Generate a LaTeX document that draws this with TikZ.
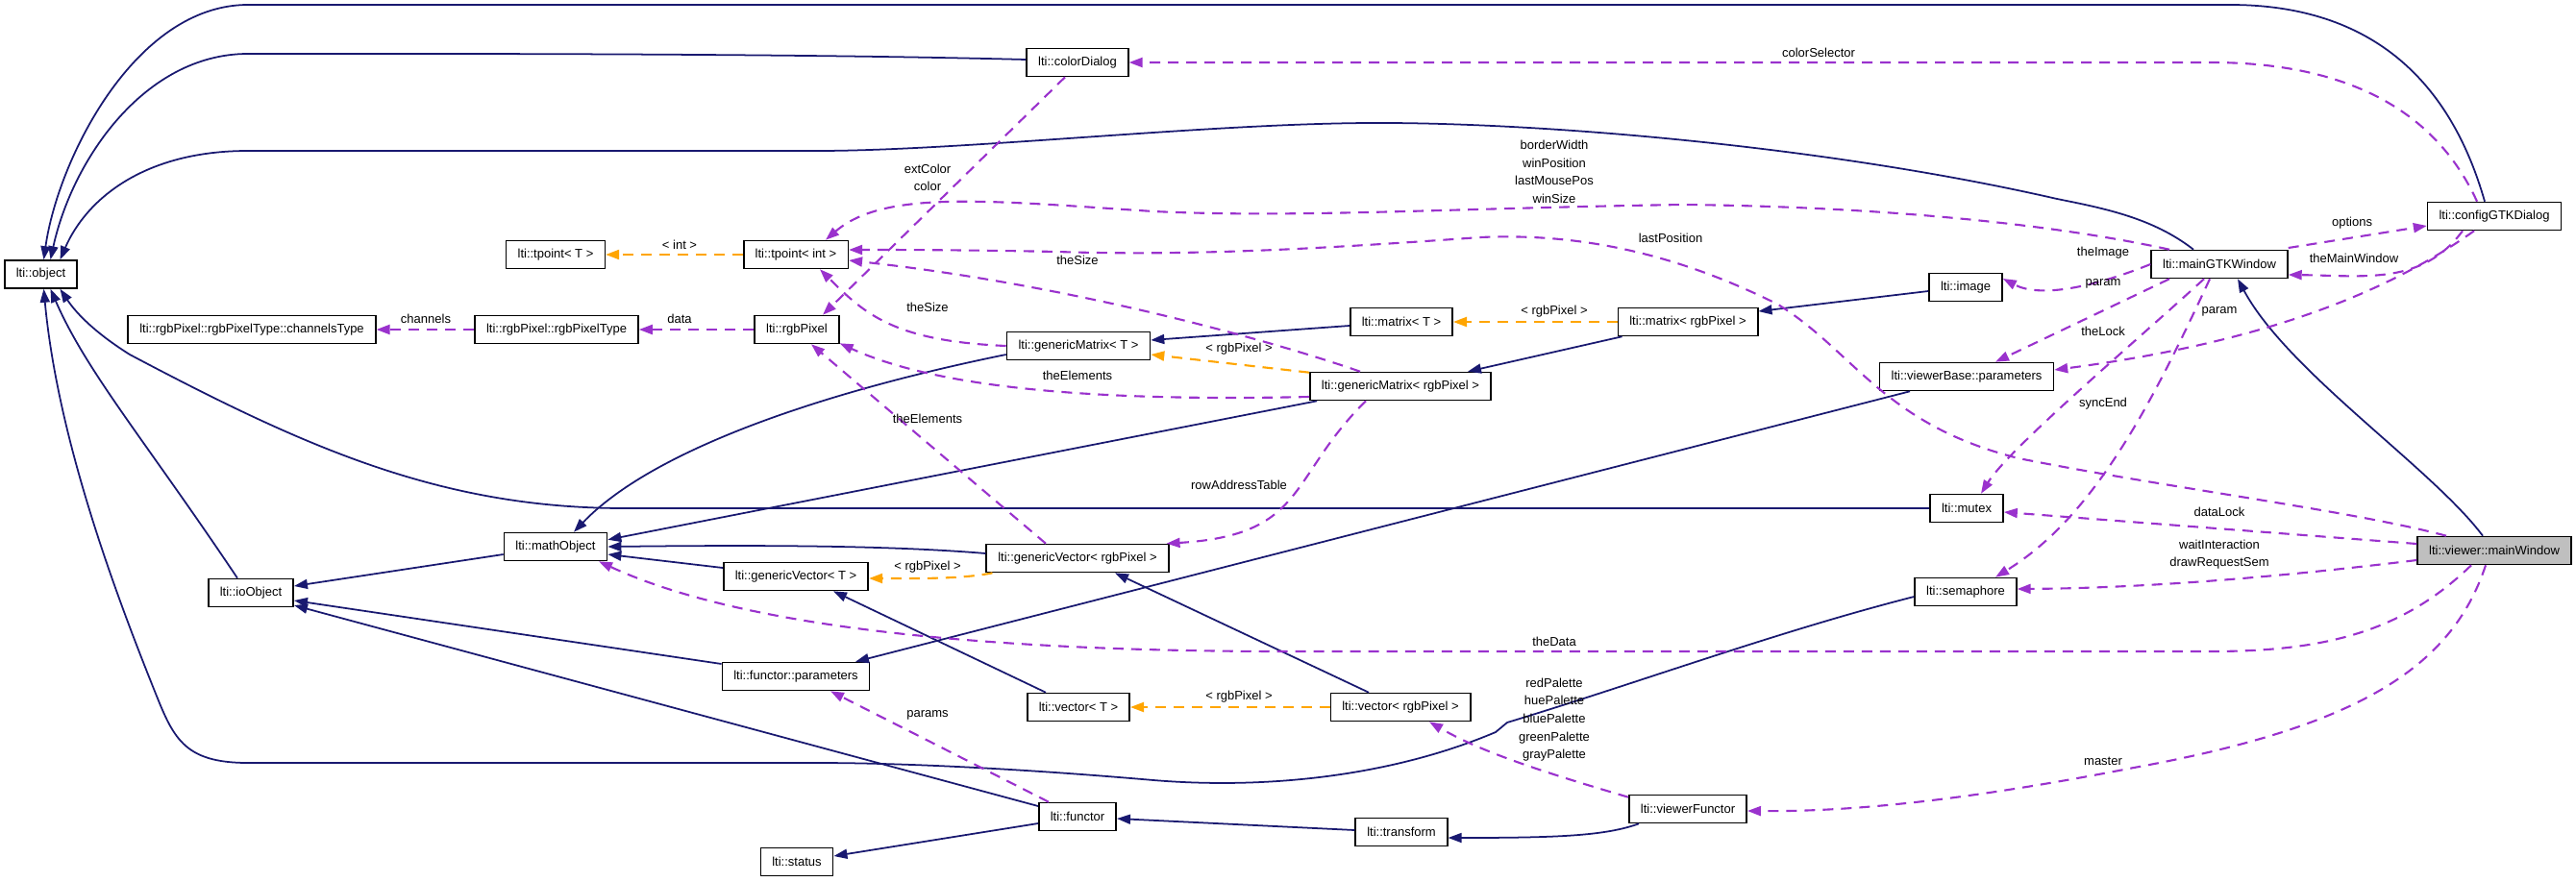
\documentclass[tikz,border=0pt]{standalone}
\usepackage{fontspec}
\setmainfont{Liberation Sans}
\usetikzlibrary{arrows.meta}
\definecolor{edgeNavy}{RGB}{25, 25, 112}
\definecolor{edgeOrchid}{RGB}{154, 50, 205}
\definecolor{edgeOrange}{RGB}{255, 165, 0}
\definecolor{nodeGray}{RGB}{191, 191, 191}
\newcommand{\lblfont}{\fontsize{3.7}{5.3}\selectfont}

\begin{document}
\begin{tikzpicture}[
    clsBox/.style={draw=black, line width=0.45pt, fill=white, inner xsep=0.12cm, inner ysep=0pt, minimum height=0.29cm, font=\lblfont},
    edgeLbl/.style={font=\lblfont, inner sep=0pt, align=center},
    inhEdge/.style={draw=edgeNavy, line width=0.5pt, -{Triangle[length=1.4mm, width=1mm]}},
    tplEdge/.style={draw=edgeOrange, line width=0.6pt, dash pattern=on 1.1mm off 0.8mm, -{Triangle[length=1.4mm, width=1mm]}},
    useEdge/.style={draw=edgeOrchid, line width=0.6pt, dash pattern=on 1.1mm off 0.8mm, -{Triangle[length=1.4mm, width=1mm]}}]
  \useasboundingbox (0,0) rectangle (26.8,9.17);
  % classes
  \node[clsBox] (obj) at (0.425,6.315) {lti::object};
  \node[clsBox] (colorDlg) at (11.21,8.52) {lti::colorDialog};
  \node[clsBox] (tpointT) at (5.78,6.52) {lti::tpoint< T >};
  \node[clsBox] (tpointInt) at (8.28,6.52) {lti::tpoint< int >};
  \node[clsBox] (chanType) at (2.62,5.74) {lti::rgbPixel::rgbPixelType::channelsType};
  \node[clsBox] (pixType) at (5.79,5.74) {lti::rgbPixel::rgbPixelType};
  \node[clsBox] (rgbPix) at (8.29,5.74) {lti::rgbPixel};
  \node[clsBox] (gmatT) at (11.22,5.57) {lti::genericMatrix< T >};
  \node[clsBox] (matT) at (14.58,5.82) {lti::matrix< T >};
  \node[clsBox] (matPix) at (17.56,5.82) {lti::matrix< rgbPixel >};
  \node[clsBox] (gmatPix) at (14.57,5.15) {lti::genericMatrix< rgbPixel >};
  \node[clsBox] (image) at (20.45,6.18) {lti::image};
  \node[clsBox] (gtkWin) at (23.09,6.42) {lti::mainGTKWindow};
  \node[clsBox] (cfgDlg) at (25.95,6.92) {lti::configGTKDialog};
  \node[clsBox] (vbParams) at (20.46,5.25) {lti::viewerBase::parameters};
  \node[clsBox] (mutex) at (20.46,3.88) {lti::mutex};
  \node[clsBox] (sema) at (20.45,3.01) {lti::semaphore};
  \node[clsBox, fill=nodeGray] (mainWin) at (25.95,3.44) {lti::viewer::mainWindow};
  \node[clsBox] (mathObj) at (5.78,3.48) {lti::mathObject};
  \node[clsBox] (ioObj) at (2.61,3.00) {lti::ioObject};
  \node[clsBox] (gvecT) at (8.28,3.17) {lti::genericVector< T >};
  \node[clsBox] (gvecPix) at (11.21,3.36) {lti::genericVector< rgbPixel >};
  \node[clsBox] (fParams) at (8.28,2.13) {lti::functor::parameters};
  \node[clsBox] (vecT) at (11.22,1.81) {lti::vector< T >};
  \node[clsBox] (vecPix) at (14.57,1.81) {lti::vector< rgbPixel >};
  \node[clsBox] (functor) at (11.21,0.67) {lti::functor};
  \node[clsBox] (status) at (8.29,0.20) {lti::status};
  \node[clsBox] (transform) at (14.58,0.51) {lti::transform};
  \node[clsBox] (vFunctor) at (17.56,0.75) {lti::viewerFunctor};

  % inheritance
  \draw[inhEdge] ([xshift=-1mm]cfgDlg.north) .. controls (25.5,8.3) and (24.7,9.12) .. (23.2,9.12)
    -- (2.58,9.12) .. controls (1.4,9.12) and (0.6,7.5) .. ([xshift=0.3mm]obj.north);
  \draw[inhEdge] ([yshift=0.3mm]colorDlg.west) .. controls (8.0,8.62) and (4.0,8.61) .. (2.58,8.61)
    .. controls (1.5,8.61) and (0.75,7.5) .. ([xshift=1mm]obj.north);
  \draw[inhEdge] ([xshift=-2.7mm]gtkWin.north) .. controls (22.4,6.9) and (21.9,7.0) .. (21.4,7.1)
    .. controls (19,7.65) and (16,7.9) .. (14.24,7.89) .. controls (12.5,7.88) and (10,7.6) .. (8.5,7.6)
    -- (2.58,7.6) .. controls (1.5,7.6) and (0.9,7.1) .. ([xshift=2mm]obj.north);
  \draw[inhEdge] ([xshift=-1.4mm]ioObj.north) .. controls (1.5,4.6) and (0.9,5.3) .. ([xshift=1mm]obj.south);
  \draw[inhEdge] (mutex.west) -- (6.5,3.88) .. controls (4.6,3.88) and (3.2,4.5) .. (1.35,5.48)
    .. controls (1.0,5.7) and (0.8,5.9) .. ([xshift=2mm]obj.south);
  \draw[inhEdge] ([yshift=-0.5mm]sema.west) .. controls (18.5,2.6) and (17.0,2.05) .. (15.68,1.65)
    -- (15.56,1.55) .. controls (14.5,1.1) and (13.2,0.95) .. (12.0,1.05)
    .. controls (10.5,1.18) and (9.3,1.23) .. (8.5,1.23) -- (2.58,1.23)
    .. controls (1.9,1.23) and (1.8,1.5) .. (1.6,2.0) .. controls (1.2,3.0) and (0.6,4.6) .. ([xshift=0.3mm]obj.south);
  \draw[inhEdge] ([yshift=-0.8mm]mathObj.west) -- ([yshift=0.7mm]ioObj.east);
  \draw[inhEdge] ([yshift=1.3mm]fParams.west) -- ([yshift=-0.8mm]ioObj.east);
  \draw[inhEdge] ([yshift=1.1mm]functor.west) -- ([yshift=-1.3mm]ioObj.east);
  \draw[inhEdge] ([yshift=-0.9mm]gmatT.west) .. controls (8.6,5.1) and (6.8,4.5) .. ([xshift=1.9mm]mathObj.north);
  \draw[inhEdge] ([xshift=0.8mm]gmatPix.south west) -- ([yshift=-0.8mm]mathObj.north east);
  \draw[inhEdge] ([yshift=0.5mm]gvecPix.west) .. controls (9.3,3.49) and (8.0,3.5) .. (mathObj.east);
  \draw[inhEdge] ([yshift=0.9mm]gvecT.west) -- ([yshift=-0.8mm]mathObj.east);
  \draw[inhEdge] ([xshift=-5.9mm]vbParams.south) -- ([xshift=6.2mm]fParams.north);
  \draw[inhEdge] ([xshift=-3.4mm]vecT.north) -- ([xshift=3.9mm]gvecT.south);
  \draw[inhEdge] ([xshift=-3.3mm]vecPix.north) -- ([xshift=3.9mm]gvecPix.south);
  \draw[inhEdge] ([yshift=-0.4mm]matT.west) -- ([yshift=0.6mm]gmatT.east);
  \draw[inhEdge] ([xshift=0.5mm]matPix.south west) -- ([xshift=7mm]gmatPix.north);
  \draw[inhEdge] ([yshift=-0.4mm]image.west) -- ([yshift=1.1mm]matPix.east);
  \draw[inhEdge] ([yshift=-0.7mm]functor.west) -- ([yshift=0.6mm]status.east);
  \draw[inhEdge] ([yshift=0.2mm]transform.west) -- ([yshift=-0.2mm]functor.east);
  \draw[inhEdge] ([xshift=-5.1mm]vFunctor.south) .. controls (16.7,0.47) and (16.2,0.45) .. ([yshift=-0.6mm]transform.east);
  \draw[inhEdge] ([xshift=-1.2mm]mainWin.north) .. controls (25.3,4.3) and (23.8,5.3) .. ([xshift=1.9mm]gtkWin.south);

  % template instances
  \draw[tplEdge] (tpointInt.west) -- (tpointT.east);
  \draw[tplEdge] ([yshift=-0.1mm]gmatPix.north west) -- ([yshift=-0.9mm]gmatT.east);
  \draw[tplEdge] (matPix.west) -- (matT.east);
  \draw[tplEdge] ([xshift=0.7mm]gvecPix.south west) .. controls (10.0,3.14) and (9.5,3.15) .. ([yshift=-0.2mm]gvecT.east);
  \draw[tplEdge] (vecPix.west) -- (vecT.east);
  \node[edgeLbl] (lInt) at (7.07,6.62) {< int >};
  \node[edgeLbl] (lPixA) at (12.89,5.54) {< rgbPixel >};
  \node[edgeLbl] (lPixB) at (16.17,5.93) {< rgbPixel >};
  \node[edgeLbl] (lPixC) at (9.65,3.27) {< rgbPixel >};
  \node[edgeLbl] (lPixD) at (12.89,1.92) {< rgbPixel >};

  % members
  \draw[useEdge] (pixType.west) -- (chanType.east);
  \draw[useEdge] (rgbPix.west) -- (pixType.east);
  \draw[useEdge] ([xshift=-1.3mm]colorDlg.south) -- ([xshift=2.7mm]rgbPix.north);
  \draw[useEdge] ([xshift=-5.2mm]gtkWin.north) .. controls (21.3,6.85) and (19.5,7.02) .. (17.5,7.04)
    .. controls (15,7.0) and (13.5,6.9) .. (12.0,6.97) .. controls (10.3,7.08) and (9.2,7.2) .. ([xshift=3.1mm]tpointInt.north);
  \draw[useEdge] ([xshift=-5mm]mainWin.north) .. controls (24.5,3.85) and (22.5,4.1) .. (21.0,4.4)
    .. controls (19.6,4.75) and (19.3,5.5) .. (18.5,6.0) .. controls (17.5,6.5) and (16.5,6.75) .. (15.4,6.7)
    .. controls (14,6.6) and (12.5,6.5) .. (11,6.55) .. controls (10,6.57) and (9.3,6.57) .. ([yshift=0.5mm]tpointInt.east);
  \draw[useEdge] ([xshift=-4.2mm]gmatPix.north) .. controls (13.3,5.6) and (11.2,6.2) .. ([yshift=-0.6mm]tpointInt.east);
  \draw[useEdge] (gmatT.west) .. controls (9.3,5.62) and (9.0,5.9) .. ([xshift=2.5mm]tpointInt.south);
  \draw[useEdge] ([yshift=-1.1mm]gmatPix.west) .. controls (11.0,4.98) and (9.6,5.2) .. ([yshift=0.1mm]rgbPix.south east);
  \draw[useEdge] ([xshift=-3.3mm]gvecPix.north) -- ([xshift=1.5mm]rgbPix.south);
  \draw[useEdge] ([xshift=-3.6mm]gmatPix.south) .. controls (13.4,4.2) and (13.6,3.6) .. ([xshift=-0.3mm]gvecPix.north east);
  \draw[useEdge] ([xshift=-2.4mm]mainWin.south) .. controls (25.0,2.6) and (24.2,2.39) .. (23.0,2.39)
    -- (13.4,2.39) .. controls (10.5,2.39) and (7.8,2.6) .. ([xshift=4.5mm]mathObj.south);
  \draw[useEdge] ([xshift=-3mm]functor.north) -- ([xshift=3.6mm]fParams.south);
  \draw[useEdge] ([yshift=-0.3mm]vFunctor.north west) .. controls (16.0,1.15) and (15.4,1.35) .. ([xshift=3mm]vecPix.south);
  \draw[useEdge] ([xshift=-0.9mm]mainWin.south) .. controls (25.5,2.2) and (24.5,1.6) .. (22.2,1.18)
    .. controls (20.5,0.85) and (19.3,0.72) .. ([yshift=-0.2mm]vFunctor.east);
  \draw[useEdge] ([yshift=0.7mm]mainWin.west) -- ([yshift=-0.4mm]mutex.east);
  \draw[useEdge] ([yshift=-1mm]mainWin.west) .. controls (24.0,3.2) and (22.5,3.05) .. ([yshift=0.3mm]sema.east);
  \draw[useEdge] ([xshift=-1.6mm]gtkWin.south) .. controls (22.2,5.6) and (20.9,4.5) .. ([xshift=1.5mm]mutex.north);
  \draw[useEdge] ([xshift=-1mm]gtkWin.south) .. controls (22.4,5.0) and (21.8,3.8) .. ([xshift=3.1mm]sema.north);
  \draw[useEdge] ([xshift=-5.2mm]gtkWin.south) -- ([xshift=3mm]vbParams.north);
  \draw[useEdge] ([xshift=-2.1mm]cfgDlg.south) .. controls (24.8,6.1) and (23.5,5.6) .. ([yshift=0.7mm]vbParams.east);
  \draw[useEdge] (gtkWin.west) .. controls (21.7,6.15) and (21.2,6.08) .. ([yshift=0.9mm]image.east);
  \draw[useEdge] ([yshift=1.7mm]gtkWin.east) -- ([yshift=-1mm]cfgDlg.west);
  \draw[useEdge] ([xshift=-3.3mm]cfgDlg.south) .. controls (25.2,6.2) and (24.6,6.3) .. ([yshift=-1.1mm]gtkWin.east);
  \draw[useEdge] ([xshift=-1.8mm]cfgDlg.north) .. controls (25.3,8.1) and (24.3,8.52) .. (23.0,8.52) -- (colorDlg.east);
  \node[edgeLbl] (lChan) at (4.43,5.85) {channels};
  \node[edgeLbl] (lData) at (7.07,5.85) {data};
  \node[edgeLbl] (lColor) at (9.65,7.32) {extColor\\color};
  \node[edgeLbl] (lWin) at (16.17,7.38) {borderWidth\\winPosition\\lastMousePos\\winSize};
  \node[edgeLbl] (lLastPos) at (17.38,6.69) {lastPosition};
  \node[edgeLbl] (lSizeA) at (11.21,6.46) {theSize};
  \node[edgeLbl] (lSizeB) at (9.65,5.97) {theSize};
  \node[edgeLbl] (lElemA) at (11.21,5.26) {theElements};
  \node[edgeLbl] (lElemB) at (9.65,4.81) {theElements};
  \node[edgeLbl] (lRows) at (12.89,4.12) {rowAddressTable};
  \node[edgeLbl] (lTheData) at (16.17,2.49) {theData};
  \node[edgeLbl] (lParams) at (9.65,1.73) {params};
  \node[edgeLbl] (lPal) at (16.17,1.68) {redPalette\\huePalette\\bluePalette\\greenPalette\\grayPalette};
  \node[edgeLbl] (lMaster) at (21.88,1.25) {master};
  \node[edgeLbl] (lDataLock) at (23.09,3.84) {dataLock};
  \node[edgeLbl] (lWait) at (23.09,3.40) {waitInteraction\\drawRequestSem};
  \node[edgeLbl] (lLock) at (21.88,5.72) {theLock};
  \node[edgeLbl] (lSync) at (21.88,4.97) {syncEnd};
  \node[edgeLbl] (lParamA) at (21.88,6.22) {param};
  \node[edgeLbl] (lParamB) at (23.09,5.93) {param};
  \node[edgeLbl] (lImage) at (21.88,6.54) {theImage};
  \node[edgeLbl] (lOptions) at (24.47,6.85) {options};
  \node[edgeLbl] (lMainWin) at (24.49,6.48) {theMainWindow};
  \node[edgeLbl] (lColSel) at (18.92,8.62) {colorSelector};
\end{tikzpicture}
\end{document}
